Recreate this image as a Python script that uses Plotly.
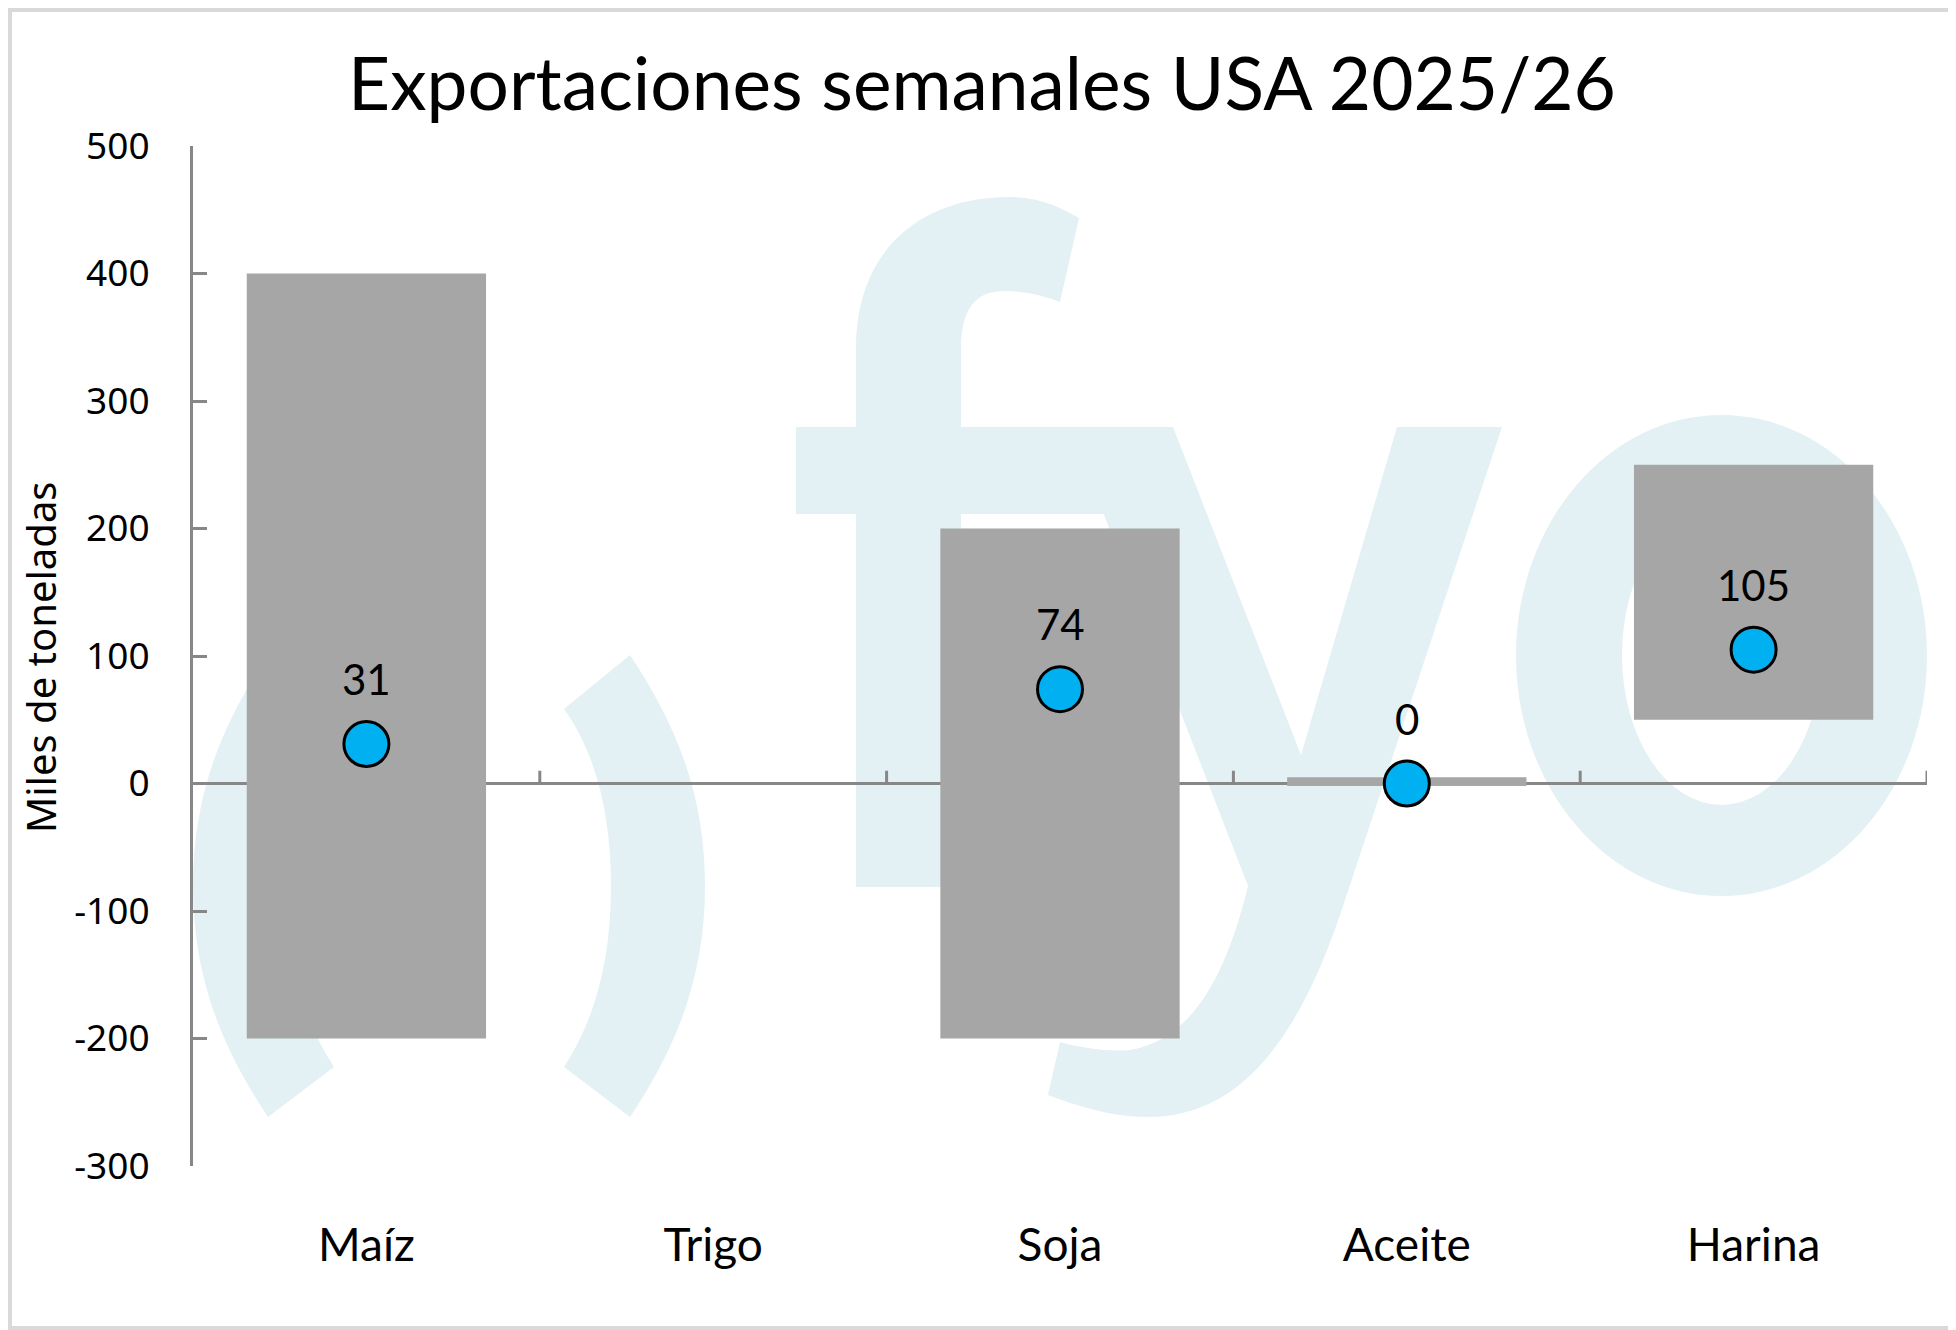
import plotly.graph_objects as go

# datos
categorias = ["Maíz", "Trigo", "Soja", "Aceite", "Harina"]
rango_min = [-200, None, -200, -2, 50]
rango_max = [400, None, 200, 5, 250]
semanal = [31, None, 74, 0, 105]
y_ticks = [-300, -200, -100, 0, 100, 200, 300, 400, 500]

# la pagina tiene 8px de margen en el body
OFF = 8
W, H = 1956 - OFF, 1330 - OFF
L, R, T, B = 193 - OFF, 29, 146 - OFF, 164
GRIS = "#878787"
AGUA = "#E3F1F5"


def paper(x, y):
    # pixel de la imagen de referencia -> coordenadas paper
    return (x - OFF - L) / (W - L - R), (H + OFF - B - y) / (H - T - B)


def path(cmds):
    out = ""
    for c, pts in cmds:
        n = 3 if c == "C" else 1
        for i in range(0, len(pts), n):
            out += c
            for x, y in pts[i:i + n]:
                px, py = paper(x, y)
                out += " %.5f,%.5f" % (px, py)
            out += " "
    return out + "Z"


fig = go.Figure()

alto = [None if lo is None else hi - lo for lo, hi in zip(rango_min, rango_max)]
fig.add_trace(go.Bar(x=categorias, y=alto, base=rango_min, width=0.69,
                     marker=dict(color="#A6A6A6", line=dict(width=0)),
                     hoverinfo="skip", showlegend=False))
fig.add_trace(go.Scatter(x=categorias, y=semanal, mode="markers",
                         marker=dict(size=45, color="#00B0F0", line=dict(color="black", width=3)),
                         showlegend=False))

for c, v in zip(categorias, semanal):
    if v is None:
        continue
    fig.add_annotation(x=c, y=v, text=str(v), showarrow=False, yshift=65,
                       font=dict(family="Lato", size=42, color="black"))

# marca de agua (.)fyo
shapes = []
paren_der = [("M", [(564, 709)]), ("L", [(630, 655)]),
             ("C", [(680, 730), (705, 800), (705, 886)]),
             ("C", [(705, 972), (680, 1042), (630, 1117)]),
             ("L", [(564, 1067)]),
             ("C", [(595, 1020), (611, 960), (611, 886)]),
             ("C", [(611, 812), (595, 752), (564, 709)])]
paren_izq = [(c, [(898 - x, y) for x, y in pts]) for c, pts in paren_der]
letra_f = [("M", [(856, 887)]), ("L", [(856, 514), (796, 514), (796, 427), (856, 427), (856, 349)]),
           ("C", [(856, 250), (920, 197), (1010, 197)]),
           ("C", [(1040, 197), (1060, 207), (1079, 218)]),
           ("L", [(1060, 302)]),
           ("C", [(1045, 296), (1025, 291), (1004, 291)]),
           ("C", [(975, 291), (961, 310), (961, 349)]),
           ("L", [(961, 427), (1173, 427), (1173, 514), (961, 514), (961, 887)])]
letra_y = [("M", [(1070, 427)]), ("L", [(1173, 427), (1301, 755), (1397, 427), (1502, 427), (1345, 900)]),
           ("C", [(1300, 1040), (1240, 1117), (1148, 1117)]),
           ("C", [(1110, 1117), (1075, 1105), (1048, 1095)]),
           ("L", [(1060, 1042)]),
           ("C", [(1080, 1048), (1110, 1052), (1130, 1050)]),
           ("C", [(1190, 1040), (1225, 980), (1248, 886)])]
for p in [paren_izq, paren_der, letra_f, letra_y]:
    shapes.append(dict(type="path", xref="paper", yref="paper", path=path(p),
                       fillcolor=AGUA, line=dict(width=0), layer="below"))
for (x0, y0, x1, y1), col in [((1516, 415, 1927, 896), AGUA), ((1622, 505, 1821, 805), "white")]:
    a = paper(x0, y1)
    b = paper(x1, y0)
    shapes.append(dict(type="circle", xref="paper", yref="paper", x0=a[0], y0=a[1], x1=b[0], y1=b[1],
                       fillcolor=col, line=dict(width=0), layer="below"))

# marcas del eje x sobre la linea del cero
for i in range(len(categorias)):
    shapes.append(dict(type="line", xref="x", yref="y", x0=i + 0.5, x1=i + 0.5, y0=0, y1=10,
                       line=dict(color=GRIS, width=3), layer="between"))

# borde del grafico
a = paper(OFF + 2, 1328)
b = paper(1954, OFF + 2)
shapes.append(dict(type="rect", xref="paper", yref="paper", x0=a[0], y0=a[1], x1=b[0], y1=b[1],
                   line=dict(color="#D9D9D9", width=4), layer="above"))

ty = paper(40, 658)
fig.add_annotation(xref="paper", yref="paper", x=ty[0], y=ty[1], xanchor="center", yanchor="middle",
                   text="Miles de toneladas", textangle=-90, showarrow=False,
                   font=dict(family="Noto Sans", size=40, color="black"))

fig.update_layout(
    width=W, height=H,
    margin=dict(l=L, r=R, t=T, b=B),
    paper_bgcolor="white", plot_bgcolor="white",
    title=dict(text="Exportaciones semanales USA 2025/26", x=0.5, xanchor="center",
               y=1 - (84 - OFF) / H, yanchor="middle",
               font=dict(family="Lato", size=73, color="black")),
    shapes=shapes,
    xaxis=dict(type="category", range=[-0.5, 4.5], showline=False, showgrid=False, ticks="",
               tickfont=dict(family="Lato", size=46, color="black"), ticklabelstandoff=48),
    yaxis=dict(range=[-300, 500], tickvals=y_ticks, ticktext=[str(v) for v in y_ticks],
               showgrid=False, showline=True, linecolor=GRIS, linewidth=3,
               ticks="inside", ticklen=14, tickwidth=3, tickcolor=GRIS,
               zeroline=True, zerolinecolor=GRIS, zerolinewidth=3,
               tickfont=dict(family="Noto Sans", size=37, color="black"), ticklabelstandoff=33),
)

fig.write_html("out.html")
